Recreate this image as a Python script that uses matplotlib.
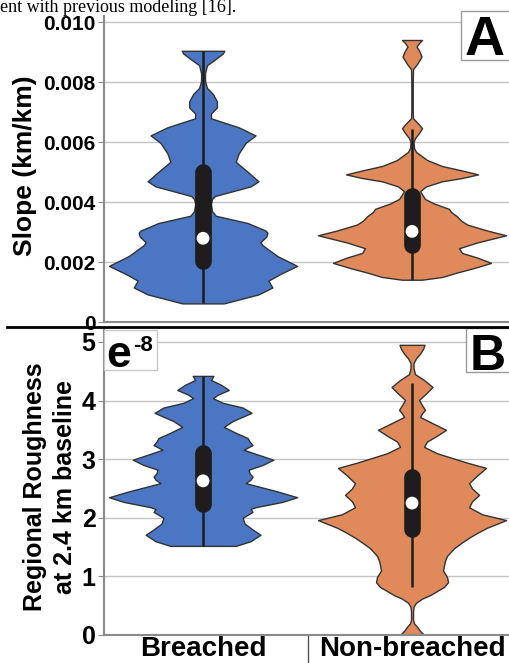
import numpy as np
import matplotlib.pyplot as plt
from matplotlib.patches import Rectangle
from matplotlib.lines import Line2D

plt.rcParams['font.family'] = ['Liberation Sans', 'DejaVu Sans']

W, H = 509, 663

categories = ['Breached', 'Non-breached']
colors = ['#4B76C4', '#E0895B']

# Panel A - slope: violin outline (value, relative half width)
slope_b_y = [0.00062, 0.00092, 0.00115, 0.00138, 0.00160, 0.00187, 0.00220, 0.00256,
             0.00266, 0.00285, 0.00298, 0.00305, 0.00330, 0.00354, 0.00370, 0.00393,
             0.00410, 0.00420, 0.00436, 0.00452, 0.00469, 0.00498, 0.00534, 0.00562,
             0.00597, 0.00622, 0.00649, 0.00679, 0.00695, 0.00715, 0.00735, 0.00760,
             0.00780, 0.00803, 0.00830, 0.00856, 0.00875, 0.00895, 0.00904]
slope_b_w = [21, 56, 70, 66, 78, 95, 75, 60,
             58, 64, 65, 63, 45, 13, 9, 8,
             9, 12, 30, 48, 56, 46, 33, 36,
             43, 53, 36, 8, 8, 14, 14, 10,
             4, 2, 2, 4, 12, 20, 21.5]

slope_n_y = [0.00141, 0.00150, 0.00164, 0.00180, 0.00197, 0.00215, 0.00230, 0.00246,
             0.00265, 0.00289, 0.00305, 0.00325, 0.00338, 0.00352, 0.00367, 0.00377,
             0.00395, 0.00410, 0.00436, 0.00452, 0.00469, 0.00480, 0.00492, 0.00505,
             0.00520, 0.00540, 0.00567, 0.00580, 0.00600, 0.00613, 0.00630, 0.00646,
             0.00662, 0.00679, 0.00700, 0.00800, 0.00843, 0.00860, 0.00885, 0.00905,
             0.00918, 0.00930, 0.00940]
slope_n_w = [10, 30, 44, 62, 79, 65, 50, 47,
             65, 94, 75, 55, 49, 45, 39, 37,
             22, 13, 8, 14, 30, 50, 66, 50,
             30, 15, 4, 2, 1.5, 3, 7, 10,
             6, 1, 0.7, 0.7, 1, 5, 9.5, 7,
             4.5, 7, 10]

slope_q1 = [0.00205, 0.00258]
slope_q3 = [0.00500, 0.00421]
slope_med = [0.00279, 0.00302]
slope_lo = [0.00062, 0.00141]
slope_hi = [0.00904, 0.00643]

# Panel B - regional roughness (x e-8)
rough_b_y = [1.52, 1.60, 1.71, 1.80, 1.90, 2.00, 2.06, 2.10, 2.15, 2.18, 2.27, 2.35,
             2.45, 2.59, 2.65, 2.70, 2.76, 2.82, 2.90, 2.99, 3.08, 3.16, 3.24, 3.30,
             3.36, 3.45, 3.55, 3.65, 3.79, 3.88, 3.96, 4.04, 4.10, 4.18, 4.27, 4.35, 4.42]
rough_b_w = [33, 48, 58, 50, 42, 40, 46, 50, 48, 53, 80, 95,
             75, 43, 48, 50, 47, 46, 60, 71, 55, 41, 50, 47,
             45, 33, 21, 30, 49, 40, 20, 10, 15, 26, 18, 8, 10.5]

rough_n_y = [0.00, 0.07, 0.14, 0.20, 0.26, 0.40, 0.48, 0.55, 0.62, 0.68, 0.75, 0.82,
             0.90, 0.99, 1.10, 1.19, 1.27, 1.35, 1.48, 1.58, 1.66, 1.75, 1.83, 1.96,
             2.06, 2.18, 2.28, 2.39, 2.50, 2.59, 2.72, 2.85, 2.94, 3.02, 3.10, 3.21,
             3.30, 3.40, 3.50, 3.60, 3.72, 3.78, 3.84, 3.92, 4.01, 4.12, 4.23, 4.35,
             4.45, 4.55, 4.64, 4.72, 4.80, 4.88, 4.95]
rough_n_w = [12, 8, 5, 2, 1, 1, 1.5, 4, 10, 18, 25, 32,
             36, 35, 31, 32, 33, 35, 42, 50, 57, 66, 75, 94,
             70, 57, 60, 67, 60, 57, 65, 74, 55, 40, 25, 12,
             15, 25, 34, 22, 8, 10, 13, 10, 7, 14, 20.5, 12,
             3, 1.5, 1.5, 4, 8, 11, 12.5]

rough_q1 = [2.24, 1.80]
rough_q3 = [3.10, 2.69]
rough_med = [2.63, 2.25]
rough_lo = [1.52, 0.82]
rough_hi = [4.42, 4.30]


def fx(px):
    return px / W


def fy(py):
    return 1 - py / H


def draw_violins(ax, outlines, q1, q3, med, lo, hi):
    stats = []
    for (ys, ws), m in zip(outlines, med):
        stats.append(dict(coords=np.array(ys), vals=np.array(ws, dtype=float),
                          mean=m, median=m, min=ys[0], max=ys[-1]))
    pos = [0, 1]
    parts = ax.violin(stats, positions=pos, widths=0.9, showmeans=False,
                      showextrema=False, showmedians=False)
    for body, c in zip(parts['bodies'], colors):
        body.set_facecolor(c)
        body.set_edgecolor('#333333')
        body.set_linewidth(1.0)
        body.set_alpha(1)
        body.set_zorder(2)
    ax.vlines(pos, lo, hi, color='#1c1c1c', lw=1.8, zorder=3)
    for p, a, b in zip(pos, q1, q3):
        ax.plot([p, p], [a, b], color='#1e1c1c', lw=12, solid_capstyle='round', zorder=4)
    ax.scatter(pos, med, s=85, color='white', edgecolors='none', zorder=5)


def style_axis(ax, ticks, labels, size):
    ax.set_xlim(-0.474, 1.464)
    ax.set_yticks(ticks)
    ax.set_yticklabels(labels, fontsize=size, fontweight='bold')
    ax.yaxis.grid(True, color='#c4c4c4', lw=1)
    ax.set_axisbelow(True)
    for s in ['top', 'right']:
        ax.spines[s].set_visible(False)
    for s in ['left', 'bottom']:
        ax.spines[s].set_color('#8a8a8a')
        ax.spines[s].set_linewidth(1.5)
    ax.tick_params(axis='y', direction='out', length=4, color='#8a8a8a', pad=2)


fig = plt.figure(figsize=(W / 100, H / 100), dpi=100)

# panel A
axA = fig.add_axes([fx(104), fy(322), fx(509 - 104), (322 - 16) / H])
draw_violins(axA, [(slope_b_y, slope_b_w), (slope_n_y, slope_n_w)],
             slope_q1, slope_q3, slope_med, slope_lo, slope_hi)
axA.set_ylim(0, 0.0102)
style_axis(axA, [0, 0.002, 0.004, 0.006, 0.008, 0.010],
           ['0', '0.002', '0.004', '0.006', '0.008', '0.010'], 15)
axA.set_xticks([])

# panel B
axB = fig.add_axes([fx(104), fy(635), fx(509 - 104), (635 - 329) / H])
draw_violins(axB, [(rough_b_y, rough_b_w), (rough_n_y, rough_n_w)],
             rough_q1, rough_q3, rough_med, rough_lo, rough_hi)
axB.set_ylim(0, 5.22)
style_axis(axB, [0, 1, 2, 3, 4, 5], ['0', '1', '2', '3', '4', '5'], 18)
axB.set_xticks([0, 1])
axB.set_xticklabels(categories, fontsize=20, fontweight='bold')
axB.tick_params(axis='x', length=0, pad=1)
axB.set_xticks([0.5], minor=True)
axB.tick_params(axis='x', which='minor', length=22, width=1, color='#555555')

# axis titles
fig.text(fx(25), fy(166), 'Slope (km/km)', rotation=90, fontsize=19,
         fontweight='bold', ha='center', va='center')
fig.text(fx(50), fy(487), 'Regional Roughness\nat 2.4 km baseline', rotation=90,
         fontsize=18, fontweight='bold', ha='center', va='center', linespacing=1.35)

# panel letters and exponent boxes
fig.add_artist(Rectangle((fx(461), fy(60)), fx(60), (60 - 11) / H, transform=fig.transFigure,
                         facecolor='white', edgecolor='#9a9a9a', lw=1, zorder=6))
fig.text(fx(465), fy(55), 'A', fontsize=40, fontweight='bold', va='baseline', zorder=7)
fig.add_artist(Rectangle((fx(466), fy(372)), fx(60), (372 - 328) / H, transform=fig.transFigure,
                         facecolor='white', edgecolor='#9a9a9a', lw=1, zorder=6))
fig.text(fx(470), fy(370), 'B', fontsize=36, fontweight='bold', va='baseline', zorder=7)
fig.add_artist(Rectangle((fx(104), fy(370)), fx(53), (370 - 330) / H, transform=fig.transFigure,
                         facecolor='white', edgecolor='#c8c8c8', lw=1, zorder=6))
fig.text(fx(106), fy(367), 'e', fontsize=32, fontweight='bold', va='baseline', zorder=7)
fig.text(fx(133), fy(351), '-8', fontsize=16, fontweight='bold', va='baseline', zorder=7)

# separator between panels and caption text above (cropped in the source)
fig.add_artist(Line2D([fx(7), 1], [fy(327), fy(327)], color='black', lw=2,
                      transform=fig.transFigure, zorder=8))
fig.text(0, fy(12), 'ent with previous modeling [16].', fontsize=13,
         family=['Liberation Serif', 'DejaVu Serif'], va='baseline')

fig.savefig('out.png', dpi=100)
